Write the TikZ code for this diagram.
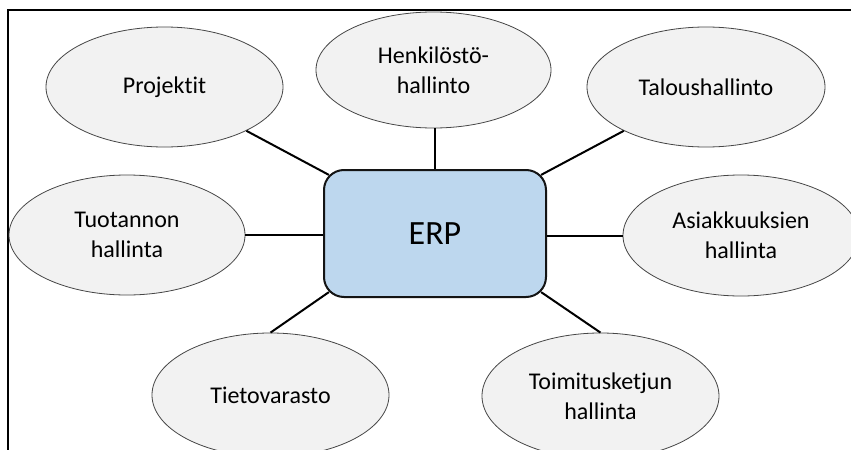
\documentclass[tikz,border=0pt]{standalone}
\usepackage{fontspec}
\setmainfont{Carlito}[Ligatures=NoCommon]
\usetikzlibrary{shapes.geometric,calc}
\definecolor{ellfill}{RGB}{242,242,242}
\definecolor{elldraw}{RGB}{70,70,70}
\definecolor{erpfill}{RGB}{189,215,238}
\definecolor{erpdraw}{RGB}{20,20,20}
\tikzset{
  bubble/.style={ellipse, draw=elldraw, fill=ellfill, line width=0.6pt, inner sep=0pt,
    align=center, font=\fontsize{18}{22.5}\selectfont},
  erpbox/.style={rectangle, rounded corners=15pt, draw=erpdraw, fill=erpfill, line width=1.5pt,
    minimum width=166.5pt, minimum height=95.25pt, inner sep=0pt, font=\fontsize{25.5}{30}\selectfont},
  link/.style={line width=1.5pt, black},
  frameline/.style={line width=1.5pt, black}
}
\begin{document}
\begin{tikzpicture}[x=0.75pt,y=-0.75pt]
\useasboundingbox (0,0) rectangle (851,450);
\clip (0,0) rectangle (851,450);
\fill[white] (0,0) rectangle (851,450);
\draw[frameline] (8,452) -- (8,10) -- (853,10);

\node[erpbox] (erp) at (435,233.5) {ERP};

\node[bubble, minimum width=177.75pt, minimum height=90pt] (proj) at (164.5,87) {Projektit};
\node[bubble, minimum width=176.25pt, minimum height=87pt] (henk) at (433.5,70) {Henkilöstö-\\hallinto};
\node[bubble, minimum width=178.5pt, minimum height=90pt] (talo) at (706,87) {Taloushallinto};
\node[bubble, minimum width=177pt, minimum height=90pt] (tuot) at (127,235) {Tuotannon\\hallinta};
\node[bubble, minimum width=177pt, minimum height=90.75pt] (asia) at (741,235.5) {Asiakkuuksien\\hallinta};
\node[bubble, minimum width=177.75pt, minimum height=93pt] (tieto) at (270.5,395) {Tietovarasto};
\node[bubble, minimum width=177.75pt, minimum height=94.5pt] (toim) at (600.5,396) {Toimitusketjun\\hallinta};

\coordinate (cNW) at ($(erp.north west)+(5.9,5.9)$);
\coordinate (cNE) at ($(erp.north east)+(-5.9,5.9)$);
\coordinate (cSW) at ($(erp.south west)+(5.9,-5.9)$);
\coordinate (cSE) at ($(erp.south east)+(-5.9,-5.9)$);

\draw[link] (cNW) -- (proj);
\draw[link] (cNE) -- (talo);
\draw[link] (erp.north) -- (erp.north |- henk.south);
\draw[link] (tuot.east) -- (tuot.east -| erp.west);
\draw[link] (asia.west -| erp.east) -- (asia.west);
\draw[link] (cSW) -- (tieto.north);
\draw[link] (cSE) -- (toim.north);
\end{tikzpicture}
\end{document}
